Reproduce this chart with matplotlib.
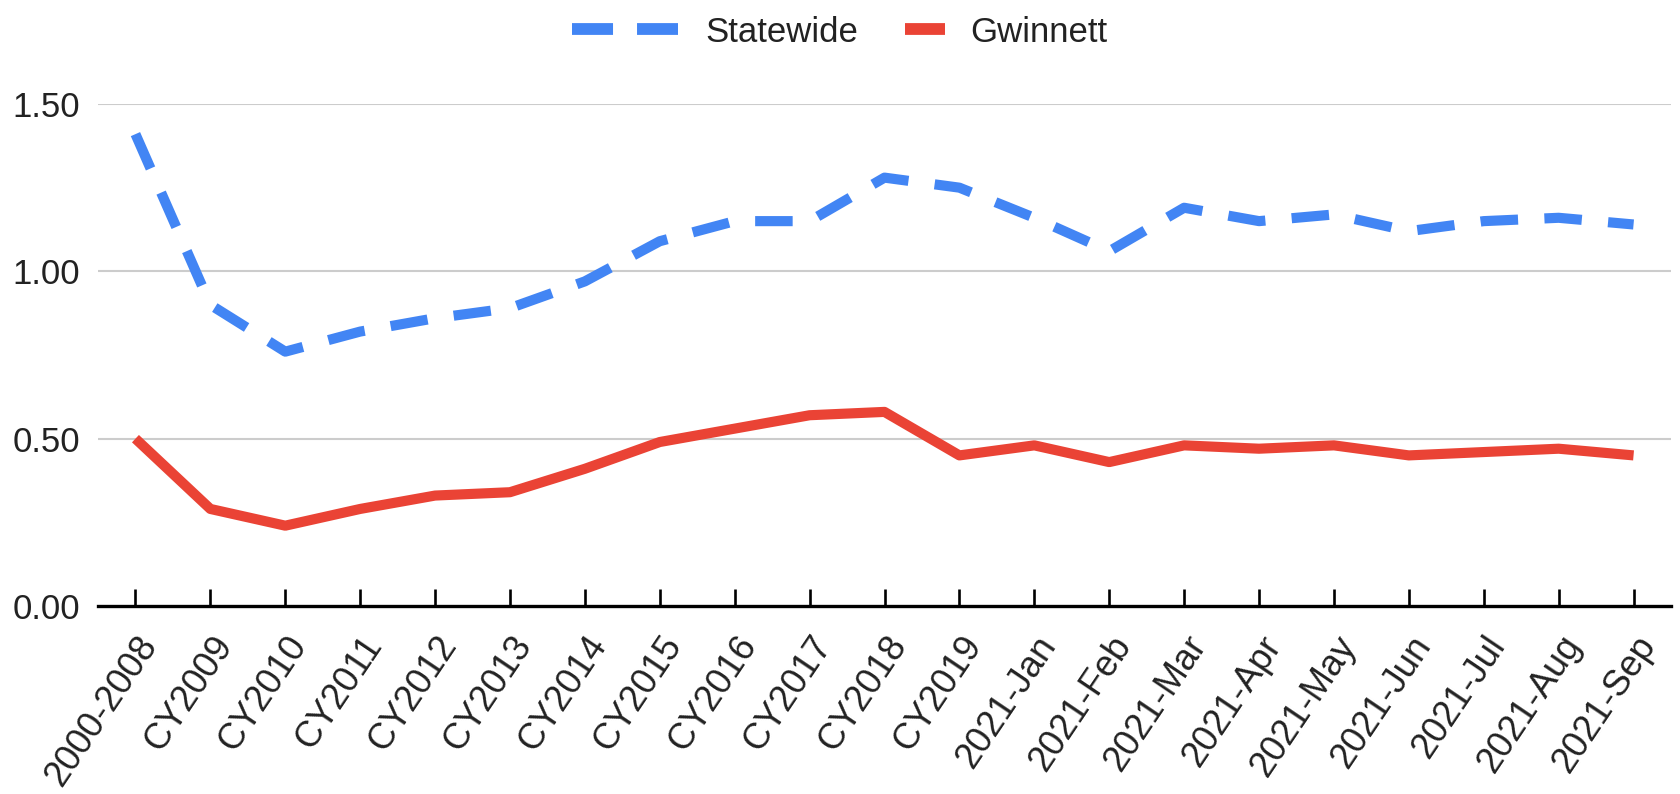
import matplotlib
matplotlib.use("Agg")
import matplotlib.pyplot as plt
from matplotlib.lines import Line2D

# Series data
categories = ["2000-2008", "CY2009", "CY2010", "CY2011", "CY2012", "CY2013",
              "CY2014", "CY2015", "CY2016", "CY2017", "CY2018", "CY2019",
              "2021-Jan", "2021-Feb", "2021-Mar", "2021-Apr", "2021-May",
              "2021-Jun", "2021-Jul", "2021-Aug", "2021-Sep"]
statewide = [1.41, 0.90, 0.76, 0.82, 0.86, 0.89, 0.97, 1.09, 1.15, 1.15, 1.28,
             1.25, 1.16, 1.06, 1.19, 1.15, 1.17, 1.12, 1.15, 1.16, 1.14]
gwinnett = [0.50, 0.29, 0.24, 0.29, 0.33, 0.34, 0.41, 0.49, 0.53, 0.57, 0.58,
            0.45, 0.48, 0.43, 0.48, 0.47, 0.48, 0.45, 0.46, 0.47, 0.45]
y_ticks = [0.0, 0.5, 1.0, 1.5]
y_tick_labels = ["0.00", "0.50", "1.00", "1.50"]
series_names = ["Statewide", "Gwinnett"]

BLUE = "#4285f4"
RED = "#ea4335"
TEXT = "#222222"

plt.rcParams["font.family"] = ["Liberation Sans", "DejaVu Sans"]

W, H = 1680, 794
fig = plt.figure(figsize=(W / 100, H / 100), dpi=100)
fig.patch.set_facecolor("white")

left, right, top, bottom = 98, 1671, 104, 606
ax = fig.add_axes([left / W, (H - bottom) / H, (right - left) / W, (bottom - top) / H])

x = list(range(len(categories)))

for yv in y_ticks[1:]:
    ax.axhline(yv, color="#cccccc", lw=1.5, zorder=1)

ax.plot(x, statewide, color=BLUE, lw=7.3, linestyle=(0, (3.7, 2.6)),
        dash_capstyle="butt", solid_joinstyle="round", zorder=3)
ax.plot(x, gwinnett, color=RED, lw=7.3, solid_capstyle="butt",
        solid_joinstyle="round", zorder=4)

ax.set_xlim(-0.5, len(categories) - 0.5)
ax.set_ylim(0, 1.5)

for s in ["top", "right", "left"]:
    ax.spines[s].set_visible(False)
ax.spines["bottom"].set_color("black")
ax.spines["bottom"].set_linewidth(2.4)
ax.spines["bottom"].set_zorder(5)

ax.set_yticks(y_ticks)
ax.set_yticklabels(y_tick_labels)
ax.tick_params(axis="y", length=0, pad=13, labelsize=25, labelcolor=TEXT)

ax.set_xticks(x)
ax.set_xticklabels(categories, rotation=56, ha="right", va="top",
                   rotation_mode="anchor")
ax.tick_params(axis="x", direction="in", length=12.2, width=1.9, color="black",
               pad=17, labelsize=26, labelcolor=TEXT)

# Legend drawn along the top of the figure
ly = 1 - 28.7 / H
fig.add_artist(Line2D([572 / W, 678 / W], [ly, ly], color=BLUE, lw=8.5,
                      linestyle=(0, (41 / 11.8, 24 / 11.8)), dash_capstyle="butt",
                      transform=fig.transFigure))
fig.text(705 / W, ly, series_names[0], fontsize=25, color=TEXT,
         ha="left", va="center_baseline")
fig.add_artist(Line2D([905 / W, 945 / W], [ly, ly], color=RED, lw=8.5,
                      solid_capstyle="butt", transform=fig.transFigure))
fig.text(970 / W, ly, series_names[1], fontsize=25, color=TEXT,
         ha="left", va="center_baseline")

fig.savefig("out.png", dpi=100, facecolor="white")
